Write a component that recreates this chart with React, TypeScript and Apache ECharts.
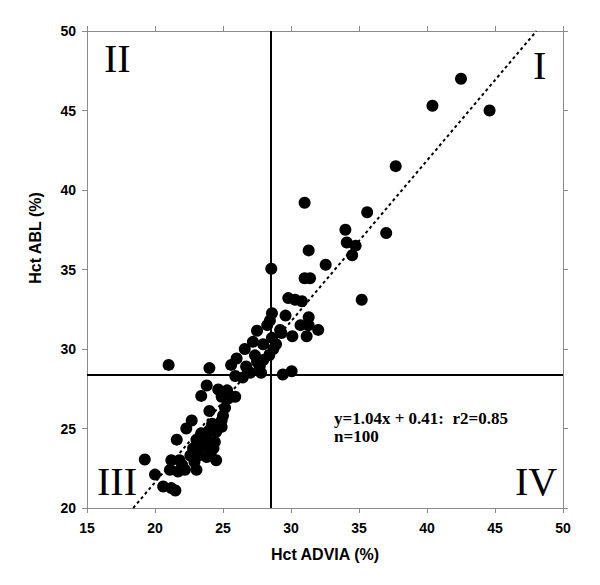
import React, { useEffect, useRef } from "react";
import * as echarts from "echarts";

// Hct ADVIA (%) vs Hct ABL (%)
const advia: number[] = [
  44.6, 42.5, 40.4, 37.7, 37.0, 35.6, 35.2, 34.0, 34.1, 34.75,
  34.5, 31.0, 31.3, 32.55, 28.55, 31.0, 31.4, 29.8, 30.3, 30.8,
  28.6, 28.45, 28.25, 29.6, 31.3, 30.7, 31.3, 32.0, 29.2, 30.1,
  31.15, 27.5, 28.6, 27.2, 27.95, 26.6, 28.7, 28.4, 26.0, 27.35,
  27.5, 27.95, 27.7, 26.7, 26.85, 25.6, 29.4, 30.05, 25.9, 26.45,
  27.0, 27.8, 21.0, 24.0, 23.8, 23.4, 24.65, 24.9, 25.4, 25.9,
  25.15, 25.0, 24.0, 22.7, 22.3, 24.9, 24.9, 21.6, 23.4, 24.0,
  24.5, 23.05, 23.8, 24.4, 22.8, 23.4, 24.3, 22.6, 23.2, 23.8,
  24.5, 19.25, 21.2, 21.8, 21.1, 21.7, 22.2, 23.05, 20.0, 20.6,
  21.2, 21.5, 24.2, 23.6, 22.9, 22.0, 24.1, 25.3, 28.9, 29.3,
];
const abl: number[] = [
  45.0, 47.0, 45.3, 41.5, 37.3, 38.6, 33.1, 37.5, 36.7, 36.5,
  35.9, 39.2, 36.2, 35.3, 35.05, 34.45, 34.45, 33.2, 33.1, 33.0,
  32.25, 31.8, 31.5, 32.1, 32.0, 31.5, 31.5, 31.2, 31.2, 30.8,
  30.8, 31.15, 30.7, 30.45, 30.3, 30.0, 30.0, 29.6, 29.4, 29.6,
  29.2, 29.3, 28.9, 28.9, 28.6, 29.0, 28.4, 28.6, 28.3, 28.2,
  28.5, 28.5, 29.0, 28.8, 27.7, 27.05, 27.45, 27.0, 26.9, 27.0,
  26.3, 25.8, 26.1, 25.5, 25.0, 25.5, 25.1, 24.3, 24.7, 24.9,
  24.8, 24.3, 24.4, 24.15, 23.75, 23.85, 23.75, 23.3, 23.3, 23.2,
  23.0, 23.05, 23.0, 23.0, 22.4, 22.3, 22.4, 22.4, 22.1, 21.35,
  21.25, 21.1, 25.3, 24.05, 22.9, 22.7, 23.5, 27.4, 30.3, 31.0,
];

// Dotted fit line as drawn
const fitX: number[] = [18.4, 48.05];
const fitY: number[] = [20, 50];

// Quadrant dividing lines
const cutX = 28.5;
const cutY = 28.35;

const xTicks = [15, 20, 25, 30, 35, 40, 45, 50];
const yTicks = [20, 25, 30, 35, 40, 45, 50];

const quadrantLabels = ["I", "II", "III", "IV"];
const noteLines = ["y=1.04x + 0.41:  r2=0.85", "n=100"];
const xTitle = "Hct ADVIA (%)";
const yTitle = "Hct ABL (%)";

const SANS = "'Liberation Sans', Arial, sans-serif";
const SERIF = "'Liberation Serif', 'Times New Roman', serif";
const GRAY = "#8a8a8a";

export default function App() {
  const ref = useRef<HTMLDivElement>(null);

  useEffect(() => {
    if (!ref.current) return;
    const chart = echarts.init(ref.current, undefined, { renderer: "svg" });
    const pts = advia.map((x, i) => [x, abl[i]]);
    const axisCommon = {
      type: "value" as const,
      interval: 5,
      axisLine: { show: true, lineStyle: { color: GRAY, width: 1 } },
      axisTick: { show: true, inside: false, length: 5, lineStyle: { color: GRAY } },
      splitLine: { show: false },
    };
    chart.setOption({
      animation: false,
      backgroundColor: "#ffffff",
      grid: { left: 87, right: 37, top: 31, bottom: 77, containLabel: false },
      xAxis: [
        {
          ...axisCommon,
          min: xTicks[0],
          max: xTicks[xTicks.length - 1],
          position: "bottom",
          name: xTitle,
          nameLocation: "middle",
          nameGap: 38,
          nameTextStyle: { fontFamily: SANS, fontWeight: "bold", fontSize: 16, color: "#000" },
          axisLabel: { fontFamily: SANS, fontWeight: "bold", fontSize: 14, color: "#000", margin: 13 },
        },
        {
          ...axisCommon,
          min: xTicks[0],
          max: xTicks[xTicks.length - 1],
          position: "top",
          axisLabel: { show: false },
        },
      ],
      yAxis: [
        {
          ...axisCommon,
          min: yTicks[0],
          max: yTicks[yTicks.length - 1],
          position: "left",
          axisLabel: { fontFamily: SANS, fontWeight: "bold", fontSize: 14, color: "#000", margin: 11 },
        },
        {
          ...axisCommon,
          min: yTicks[0],
          max: yTicks[yTicks.length - 1],
          position: "right",
          axisLabel: { show: false },
        },
      ],
      series: [
        {
          type: "line",
          data: fitX.map((x, i) => [x, fitY[i]]),
          showSymbol: false,
          symbol: "none",
          lineStyle: { color: "#000", width: 2, type: [3, 3] },
          silent: true,
          z: 1,
        },
        {
          type: "scatter",
          data: pts,
          symbol: "circle",
          symbolSize: 12,
          itemStyle: { color: "#000", opacity: 1 },
          z: 3,
          markLine: {
            silent: true,
            symbol: "none",
            label: { show: false },
            lineStyle: { color: "#000", width: 2, type: "solid" },
            data: [{ xAxis: cutX }, { yAxis: cutY }],
          },
        },
      ],
      graphic: [
        { type: "text", left: 104, top: 38, style: { text: quadrantLabels[1], font: `40px ${SERIF}`, fill: "#000" } },
        { type: "text", left: 533, top: 45, style: { text: quadrantLabels[0], font: `40px ${SERIF}`, fill: "#000" } },
        { type: "text", left: 97, top: 461, style: { text: quadrantLabels[2], font: `40px ${SERIF}`, fill: "#000" } },
        { type: "text", left: 515, top: 461, style: { text: quadrantLabels[3], font: `40px ${SERIF}`, fill: "#000" } },
        { type: "text", left: 334, top: 410, style: { text: noteLines[0], font: `bold 17px ${SERIF}`, fill: "#000" } },
        { type: "text", left: 334, top: 428, style: { text: noteLines[1], font: `bold 17px ${SERIF}`, fill: "#000" } },
        {
          type: "text",
          x: 35,
          y: 238,
          rotation: Math.PI / 2,
          style: { text: yTitle, font: `bold 16px ${SANS}`, fill: "#000", align: "center", verticalAlign: "middle" },
        },
      ],
    });
    return () => chart.dispose();
  }, []);

  return <div ref={ref} style={{ width: 600, height: 585, position: "absolute", left: 0, top: 0 }} />;
}
